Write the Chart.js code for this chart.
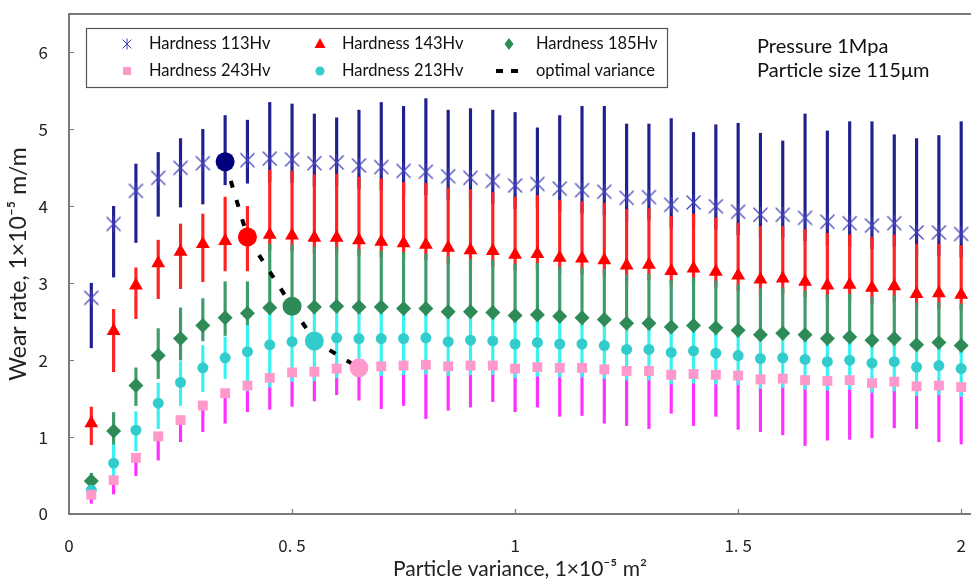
<!DOCTYPE html>
<html>
<head>
<meta charset="utf-8">
<script src="https://cdn.jsdelivr.net/npm/chart.js@4/dist/chart.umd.min.js"></script>
<style>
  html, body { margin: 0; padding: 0; background: #fff; }
  #wrap { width: 971px; height: 582px; }
</style>
</head>
<body>
<div id="wrap"><canvas id="chart" width="971" height="582"></canvas></div>
<script>
// particle variance (x), 1e-5 m^2
const variance = [0.05, 0.10, 0.15, 0.20, 0.25, 0.30, 0.35, 0.40, 0.45, 0.50,
                  0.55, 0.60, 0.65, 0.70, 0.75, 0.80, 0.85, 0.90, 0.95, 1.00,
                  1.05, 1.10, 1.15, 1.20, 1.25, 1.30, 1.35, 1.40, 1.45, 1.50,
                  1.55, 1.60, 1.65, 1.70, 1.75, 1.80, 1.85, 1.90, 1.95, 2.00];

// mean wear rate per hardness
const wear113 = [2.81, 3.77, 4.20, 4.37, 4.50, 4.56, 4.58, 4.60, 4.62, 4.61,
                 4.56, 4.57, 4.53, 4.51, 4.46, 4.45, 4.39, 4.37, 4.33, 4.27,
                 4.29, 4.23, 4.21, 4.19, 4.11, 4.12, 4.02, 4.05, 4.00, 3.93,
                 3.89, 3.89, 3.85, 3.80, 3.78, 3.75, 3.78, 3.66, 3.66, 3.64];
const wear143 = [1.18, 2.38, 2.97, 3.26, 3.41, 3.51, 3.55, 3.60, 3.63, 3.62,
                 3.59, 3.59, 3.56, 3.54, 3.52, 3.50, 3.46, 3.43, 3.42, 3.37,
                 3.38, 3.33, 3.32, 3.30, 3.23, 3.24, 3.16, 3.19, 3.15, 3.10,
                 3.05, 3.06, 3.02, 2.97, 2.98, 2.94, 2.96, 2.86, 2.87, 2.85];
const wear185 = [0.43, 1.08, 1.67, 2.06, 2.28, 2.45, 2.55, 2.61, 2.68, 2.70,
                 2.69, 2.70, 2.69, 2.69, 2.67, 2.67, 2.63, 2.63, 2.62, 2.58,
                 2.59, 2.57, 2.55, 2.53, 2.48, 2.48, 2.43, 2.45, 2.42, 2.39,
                 2.33, 2.35, 2.33, 2.28, 2.30, 2.26, 2.28, 2.20, 2.23, 2.19];
const wear213 = [0.31, 0.66, 1.09, 1.44, 1.71, 1.90, 2.03, 2.11, 2.20, 2.24,
                 2.25, 2.29, 2.28, 2.28, 2.28, 2.29, 2.24, 2.26, 2.25, 2.21,
                 2.23, 2.21, 2.21, 2.19, 2.14, 2.14, 2.10, 2.12, 2.09, 2.06,
                 2.02, 2.03, 2.01, 1.98, 2.00, 1.96, 1.98, 1.91, 1.93, 1.89];
const wear243 = [0.25, 0.44, 0.73, 1.01, 1.22, 1.41, 1.57, 1.67, 1.77, 1.84,
                 1.85, 1.89, 1.91, 1.92, 1.93, 1.94, 1.92, 1.93, 1.93, 1.89,
                 1.91, 1.90, 1.90, 1.88, 1.86, 1.86, 1.81, 1.82, 1.81, 1.80,
                 1.75, 1.76, 1.74, 1.73, 1.74, 1.70, 1.72, 1.66, 1.67, 1.65];

// visible spread of the simulated samples (low / high end of each stripe)
const spread113Lo = [2.16, 3.08, 3.53, 3.87, 3.99, 4.03, 4.28, 4.30, 4.32, 4.31,
                     4.26, 4.27, 4.23, 4.21, 4.16, 4.15, 4.09, 4.07, 4.03, 3.97,
                     3.99, 3.93, 3.91, 3.89, 3.81, 3.82, 3.72, 3.75, 3.70, 3.63,
                     3.59, 3.59, 3.55, 3.50, 3.48, 3.45, 3.48, 3.36, 3.36, 3.34];
const spread113Hi = [3.00, 4.00, 4.55, 4.70, 4.88, 5.00, 5.18, 5.12, 5.35, 5.33,
                     5.20, 5.15, 5.25, 5.35, 5.30, 5.40, 5.25, 5.27, 5.25, 5.22,
                     5.02, 5.18, 5.30, 5.30, 5.07, 5.07, 5.14, 4.96, 5.06, 5.08,
                     4.95, 4.85, 5.20, 4.98, 5.10, 5.10, 4.93, 4.88, 4.92, 5.10];
const spread143Lo = [0.90, 1.85, 2.54, 2.80, 2.93, 3.02, 3.16, 3.16, 3.43, 3.42,
                     3.39, 3.39, 3.36, 3.34, 3.32, 3.30, 3.26, 3.23, 3.22, 3.17,
                     3.18, 3.13, 3.12, 3.10, 3.03, 3.04, 2.96, 2.99, 2.95, 2.90,
                     2.85, 2.86, 2.82, 2.77, 2.78, 2.74, 2.76, 2.66, 2.67, 2.65];
const spread143Hi = [1.39, 2.66, 3.20, 3.56, 3.77, 3.90, 4.12, 4.00, 4.47, 4.46,
                     4.41, 4.42, 4.38, 4.36, 4.31, 4.30, 4.24, 4.22, 4.18, 4.12,
                     4.14, 4.08, 4.06, 4.04, 3.96, 3.97, 3.87, 3.90, 3.85, 3.78,
                     3.74, 3.74, 3.70, 3.65, 3.63, 3.60, 3.63, 3.51, 3.51, 3.49];
const spread185Lo = [0.38, 0.90, 1.41, 1.76, 2.00, 2.25, 2.32, 2.45, 2.58, 2.60,
                     2.59, 2.60, 2.59, 2.59, 2.57, 2.57, 2.53, 2.53, 2.52, 2.48,
                     2.49, 2.47, 2.45, 2.43, 2.38, 2.38, 2.33, 2.35, 2.32, 2.29,
                     2.23, 2.25, 2.23, 2.18, 2.20, 2.16, 2.18, 2.10, 2.13, 2.09];
const spread185Hi = [0.53, 1.32, 1.90, 2.41, 2.68, 2.80, 3.02, 3.02, 3.51, 3.50,
                     3.47, 3.47, 3.44, 3.42, 3.40, 3.38, 3.34, 3.31, 3.30, 3.25,
                     3.26, 3.21, 3.20, 3.18, 3.11, 3.12, 3.04, 3.07, 3.03, 2.98,
                     2.93, 2.94, 2.90, 2.85, 2.86, 2.82, 2.84, 2.74, 2.75, 2.73];
const spread213Lo = [0.25, 0.47, 0.82, 1.11, 1.41, 1.59, 1.76, 1.60, 1.65, 1.72,
                     1.73, 1.77, 1.79, 1.80, 1.81, 1.82, 1.80, 1.81, 1.81, 1.77,
                     1.79, 1.78, 1.78, 1.76, 1.74, 1.74, 1.69, 1.70, 1.69, 1.68,
                     1.63, 1.64, 1.62, 1.61, 1.62, 1.58, 1.60, 1.54, 1.55, 1.53];
const spread213Hi = [0.33, 0.90, 1.33, 1.70, 1.98, 2.19, 2.30, 2.45, 2.66, 2.68,
                     2.67, 2.68, 2.67, 2.67, 2.65, 2.65, 2.61, 2.61, 2.60, 2.56,
                     2.57, 2.55, 2.53, 2.51, 2.46, 2.46, 2.41, 2.43, 2.40, 2.37,
                     2.31, 2.33, 2.31, 2.26, 2.28, 2.24, 2.26, 2.18, 2.21, 2.17];
const spread243Lo = [0.14, 0.26, 0.50, 0.70, 0.94, 1.07, 1.18, 1.33, 1.36, 1.40,
                     1.47, 1.55, 1.48, 1.37, 1.41, 1.24, 1.35, 1.39, 1.46, 1.33,
                     1.39, 1.27, 1.28, 1.18, 1.15, 1.11, 1.31, 1.15, 1.27, 1.10,
                     1.07, 1.03, 0.89, 0.96, 0.97, 0.99, 1.12, 1.11, 0.94, 0.91];

// optimal variance for each hardness
const optimalVariance = [0.35, 0.40, 0.50, 0.55, 0.65];
const optimalWear = [4.58, 3.60, 2.70, 2.25, 1.90];

const xTicks = [0, 0.5, 1, 1.5, 2];
const yTicks = [0, 1, 2, 3, 4, 5, 6];

const FONT = 'Lato, "Open Sans", sans-serif';

function makeStar(size, color, lw) {
    const c = document.createElement('canvas');
    c.width = c.height = size;
    const g = c.getContext('2d');
    const m = size / 2, r = size / 2 - 1.5;
    g.strokeStyle = color;
    g.lineWidth = lw;
    g.beginPath();
    g.moveTo(m - r, m - r); g.lineTo(m + r, m + r);
    g.moveTo(m + r, m - r); g.lineTo(m - r, m + r);
    g.moveTo(m, m - r - 1); g.lineTo(m, m + r + 1);
    g.stroke();
    return c;
}

function stripe(lo, hi, color, order) {
    return {
        type: 'bar',
        data: variance.map((x, i) => ({ x: x, y: [lo[i], hi[i]] })),
        backgroundColor: color,
        borderWidth: 0,
        barThickness: 2.5,
        grouped: false,
        order: order
    };
}

function means(values, style, color, radius, order) {
    return {
        type: 'scatter',
        data: variance.map((x, i) => ({ x: x, y: values[i] })),
        pointStyle: style,
        pointRadius: radius,
        pointBackgroundColor: color,
        pointBorderColor: color,
        pointBorderWidth: 0,
        order: order
    };
}

const starImg = makeStar(17, '#4040b8', 1.2);

const datasets = [
    stripe(spread113Lo, spread113Hi, '#1f1f8e', 30),
    stripe(spread143Lo, spread143Hi, '#ff2222', 29),
    stripe(spread185Lo, spread185Hi, '#3d9b6c', 28),
    stripe(spread243Lo, wear243, '#ff30ff', 27),
    stripe(spread213Lo, spread213Hi, '#38f2f2', 26),
    means(wear113, starImg, '#4040b8', 8, 15),
    means(wear143, 'triangle', '#ff0000', 8, 14),
    means(wear185, 'rectRot', '#2e8b57', 7.5, 13),
    means(wear213, 'circle', '#33cccc', 5.5, 12),
    means(wear243, 'rect', '#ff99cc', 7, 11),
    {
        type: 'scatter',
        data: optimalVariance.map((x, i) => ({ x: x, y: optimalWear[i] })),
        showLine: true,
        borderColor: '#000',
        borderWidth: 4,
        borderDash: [7, 13],
        pointRadius: 0,
        order: 3
    },
    {
        type: 'scatter',
        data: optimalVariance.map((x, i) => ({ x: x, y: optimalWear[i] })),
        pointStyle: 'circle',
        pointRadius: 9.5,
        pointBackgroundColor: ['#00007f', '#ff0000', '#2e8b57', '#33cccc', '#ff99cc'],
        pointBorderWidth: 0,
        order: 1
    }
];

// legend entries, in the order of the original box
const legendItems = [
    { label: 'Hardness 113Hv', mark: 'star', color: '#4040b8' },
    { label: 'Hardness 143Hv', mark: 'triangle', color: '#ff0000' },
    { label: 'Hardness 185Hv', mark: 'diamond', color: '#2e8b57' },
    { label: 'Hardness 243Hv', mark: 'square', color: '#ff99cc' },
    { label: 'Hardness 213Hv', mark: 'circle', color: '#33cccc' },
    { label: 'optimal variance', mark: 'dash', color: '#000' }
];

function drawMark(ctx, mark, color, x, y) {
    ctx.fillStyle = color;
    ctx.strokeStyle = color;
    ctx.beginPath();
    if (mark === 'star') {
        ctx.drawImage(makeStar(12, color, 1), x - 6, y - 6);
        return;
    } else if (mark === 'triangle') {
        ctx.moveTo(x, y - 6); ctx.lineTo(x + 5.5, y + 4); ctx.lineTo(x - 5.5, y + 4);
        ctx.closePath(); ctx.fill();
    } else if (mark === 'diamond') {
        ctx.moveTo(x, y - 6); ctx.lineTo(x + 4.5, y); ctx.lineTo(x, y + 6); ctx.lineTo(x - 4.5, y);
        ctx.closePath(); ctx.fill();
    } else if (mark === 'square') {
        ctx.fillRect(x - 4, y - 4, 8, 8);
    } else if (mark === 'circle') {
        ctx.arc(x, y, 4.5, 0, Math.PI * 2); ctx.fill();
    } else if (mark === 'dash') {
        ctx.fillRect(x - 13, y - 2, 7, 4);
        ctx.fillRect(x + 2, y - 2, 7, 4);
    }
}

const decorations = {
    id: 'decorations',
    beforeDatasetsDraw(chart) {
        const { ctx, chartArea: a, scales } = chart;
        ctx.save();
        ctx.strokeStyle = '#7a7a7a';
        ctx.lineWidth = 2;
        ctx.strokeRect(a.left, a.top, a.right - a.left + 10, a.bottom - a.top);
        ctx.lineWidth = 1.2;
        ctx.beginPath();
        xTicks.forEach(v => {
            if (v === 0) return;
            const px = Math.round(scales.x.getPixelForValue(v)) + 0.5;
            ctx.moveTo(px, a.bottom); ctx.lineTo(px, a.bottom - 5);
        });
        yTicks.forEach(v => {
            if (v === 0) return;
            const py = Math.round(scales.y.getPixelForValue(v)) + 0.5;
            ctx.moveTo(a.left, py); ctx.lineTo(a.left + 5, py);
        });
        ctx.stroke();
        ctx.restore();
    },
    afterDraw(chart) {
        const { ctx } = chart;
        ctx.save();
        // legend box
        ctx.fillStyle = '#fff';
        ctx.fillRect(86, 28, 581, 59);
        ctx.strokeStyle = '#555';
        ctx.lineWidth = 1.2;
        ctx.strokeRect(86.5, 28.5, 581, 59);
        const markX = [127, 320, 509];
        const textX = [149, 342, 536];
        const rowY = [44, 71];
        ctx.font = '16.5px ' + FONT;
        ctx.textBaseline = 'middle';
        ctx.textAlign = 'left';
        legendItems.forEach((item, i) => {
            const col = i % 3, row = Math.floor(i / 3);
            drawMark(ctx, item.mark, item.color, markX[col], rowY[row]);
            ctx.fillStyle = '#111';
            ctx.fillText(item.label, textX[col], rowY[row]);
        });
        // test conditions
        ctx.font = '20px ' + FONT;
        ctx.fillStyle = '#111';
        ctx.fillText('Pressure 1Mpa', 757, 47);
        ctx.fillText('Particle size 115\u03bcm', 757, 71);
        ctx.restore();
    }
};

new Chart(document.getElementById('chart'), {
    type: 'bar',
    data: { datasets },
    options: {
        responsive: false,
        animation: false,
        events: [],
        layout: { autoPadding: false, padding: { top: 14, right: 0, left: 0, bottom: 0 } },
        plugins: {
            legend: { display: false },
            tooltip: { enabled: false }
        },
        scales: {
            x: {
                type: 'linear',
                min: 0,
                max: 2.022,
                offset: false,
                grid: { display: false },
                border: { display: false },
                afterBuildTicks: (s) => { s.ticks = xTicks.map(v => ({ value: v })); },
                afterFit: (s) => { s.height = 68; s.paddingLeft = 0; s.paddingRight = 0; },
                ticks: {
                    padding: 13,
                    color: '#222',
                    font: { family: '"Noto Sans CJK JP", sans-serif', size: 17 },
                    callback: (v) => String(v).replace('.', '. ')
                },
                title: {
                    display: true,
                    text: 'Particle variance, 1\u00d710\u207b\u2075 m\u00b2',
                    color: '#222',
                    font: { family: FONT, size: 21 },
                    padding: { top: 0, bottom: 0 }
                }
            },
            y: {
                type: 'linear',
                min: 0,
                max: 6.5,
                grid: { display: false },
                border: { display: false },
                afterBuildTicks: (s) => { s.ticks = yTicks.map(v => ({ value: v })); },
                afterFit: (s) => { s.width = 69; s.paddingTop = 0; s.paddingBottom = 0; },
                ticks: {
                    padding: 13,
                    color: '#222',
                    font: { family: '"Noto Sans CJK JP", sans-serif', size: 17 }
                },
                title: {
                    display: true,
                    text: 'Wear rate, 1\u00d710\u207b\u2075 m/m',
                    color: '#222',
                    font: { family: FONT, size: 23 },
                    padding: { top: 5, bottom: 6 }
                }
            }
        }
    },
    plugins: [decorations]
});
</script>
</body>
</html>
